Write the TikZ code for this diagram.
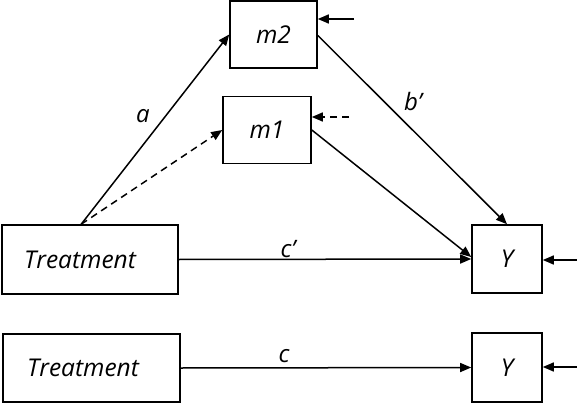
\documentclass[tikz,border=0pt]{standalone}
\usepackage{fontspec}
\setmainfont{Open Sans}
\usetikzlibrary{arrows.meta,calc}
\begin{document}
\begin{tikzpicture}[x=1pt,y=-1pt,
  box/.style={draw,line width=1.6pt,inner sep=0pt,font=\fontsize{24.5}{26}\selectfont\itshape},
  conn/.style={line width=1.5pt,-{Triangle[length=11pt,width=9pt]}},
  lab/.style={font=\fontsize{24}{26}\selectfont\itshape}]
\useasboundingbox (0,0) rectangle (577,403);
\node[box,minimum width=87pt,minimum height=67pt] (m2) at (273.5,34.5) {m2};
\node[box,minimum width=88pt,minimum height=67pt] (m1) at (267,130) {m1};
\node[box,minimum width=176pt,minimum height=69pt] (T1) at (90,259.5) {Treatment\kern20pt};
\node[box,minimum width=70pt,minimum height=68pt] (Y1) at (507,259) {Y};
\node[box,minimum width=177pt,minimum height=68pt] (T2) at (91.5,368) {Treatment\kern17pt};
\node[box,minimum width=70pt,minimum height=69pt] (Y2) at (507,367.5) {Y};
\coordinate (s) at ($(T1.north west)+(80,0)$);
\coordinate (e2) at (354,19);
\coordinate (e1) at (349,117);
\coordinate (eY1) at (577,260);
\coordinate (eY2) at (577,367);
\draw[conn] (s) -- (m2.west);
\draw[conn,dashed,dash pattern=on 7pt off 5pt] (s) -- (m1.west);
\draw[conn] ($(m2.east)+(0,1)$) -- (Y1.north);
\draw[conn] (m1.east) -- ($(Y1.west)+(0,-2)$);
\draw[conn] (T1.east) -- (Y1.west);
\draw[conn] (T2.east) -- (Y2.west);
\draw[conn] (e2) -- (m2.east |- e2);
\draw[conn,dashed,dash pattern=on 7pt off 5pt] (e1) -- (m1.east |- e1);
\draw[conn] (eY1) -- (Y1.east |- eY1);
\draw[conn] (eY2) -- (Y2.east |- eY2);
\node[lab] (la) at (143,116) {a};
\node[lab] (lb) at (413,102) {b'};
\node[lab] (lc1) at (288,249) {c'};
\node[lab] (lc) at (284,356) {c};
\end{tikzpicture}
\end{document}
